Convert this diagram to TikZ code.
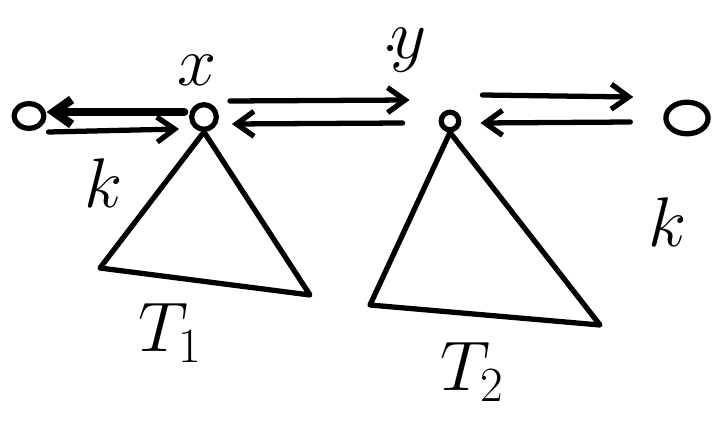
\RequirePackage{fix-cm}
\documentclass[tikz,border=0pt]{standalone}
\usetikzlibrary{arrows.meta,positioning,shapes.geometric}

\begin{document}
\begin{tikzpicture}[x=0.02cm, y=-0.02cm, line width=3pt, line cap=round, line join=round,
  vert/.style={draw, circle, inner sep=0pt, minimum size=#1},
  lbl/.style={font=\fontsize{40}{44}\selectfont},
  arr/.style={-{Straight Barb[length=3.5mm,width=5mm]}}]
\useasboundingbox (0,0) rectangle (717,429);
% vertices
\node[draw, ellipse, inner sep=0pt, minimum width=17pt, minimum height=14pt] (lo) at (29,116) {};
\node[vert=14pt] (x) at (204,117) {};
\node[vert=10pt] (y) at (450,121) {};
\node[draw, ellipse, inner sep=0pt, minimum width=24pt, minimum height=18pt] (ro) at (687,118) {};
\node[lbl] (xl) at (197,70) {$x$};
\node[lbl] (yl) at (409,50) {$y$};
\fill (390,48) circle (1.8pt);
% edges
\draw[arr, line width=5pt] ([shift={(-5,-5)}]x.west) -- ([shift={(0,-4)}]lo.east);
\draw[arr] ([shift={(2,16)}]lo.east) -- ([shift={(-10,12)}]x.west);
\draw[arr] ([shift={(11,-16)}]x.east) -- ([shift={(-29,-21)}]y.west);
\draw[arr] ([shift={(-36,2)}]y.west) -- ([shift={(13,7)}]x.east);
\draw[arr] ([shift={(21,-26)}]y.east) -- ([shift={(-30,-21)}]ro.west);
\draw[arr] ([shift={(-33,4)}]ro.west) -- ([shift={(19,2)}]y.east);
\node[lbl] (kl) at (104,183) {$k$};
\node[lbl] (kr) at (668,222) {$k$};
% subtrees
\coordinate (a1) at (100,268);
\coordinate (b1) at (310,295);
\coordinate (a2) at (370,305);
\coordinate (b2) at (600,325);
\draw (x.south) -- (a1) -- (b1) -- (x.south);
\draw (y.south) -- (a2) -- (b2) -- (y.south);
\node[lbl] (t1) at (170,333) {$T_1$};
\node[lbl] (t2) at (472,372) {$T_2$};
\end{tikzpicture}
\end{document}
